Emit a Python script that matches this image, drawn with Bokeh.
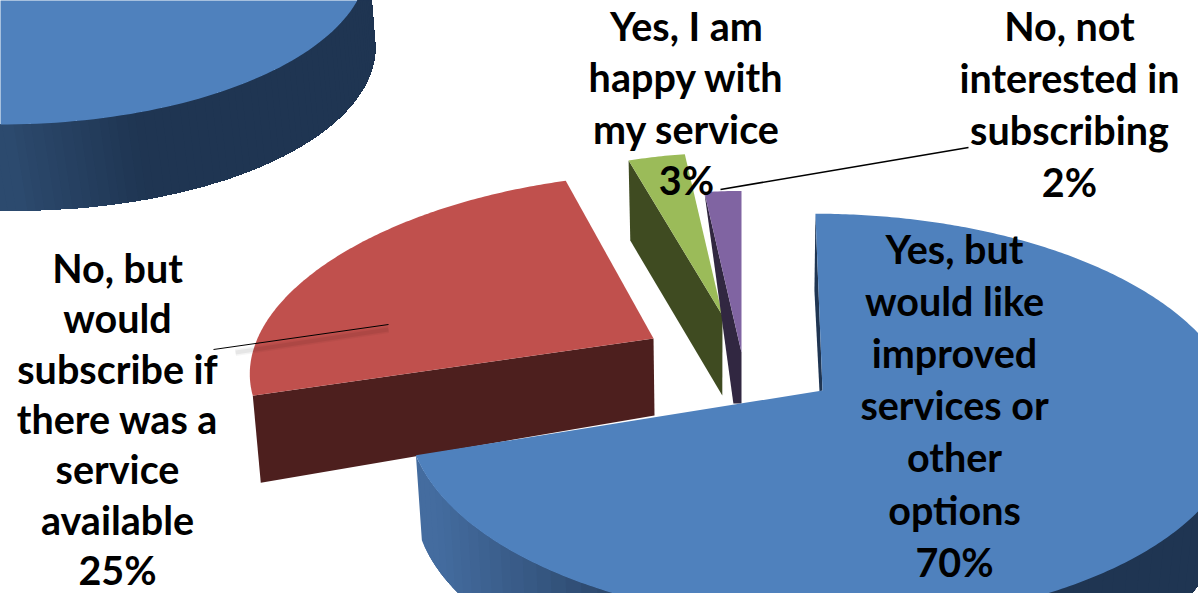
import numpy as np
from bokeh.plotting import figure
from bokeh.models import Range1d
from bokeh.core.properties import value
from bokeh.embed import file_html
from bokeh.resources import INLINE

# ---- data ----
categories = ["Yes, but would like improved services or other options",
              "No, but would subscribe if there was a service available",
              "Yes, I am happy with my service",
              "No, not interested in subscribing"]
percent = [70, 25, 3, 2]
label_lines = [["Yes, but", "would like", "improved", "services or", "other", "options"],
               ["No, but", "would", "subscribe if", "there was a", "service", "available"],
               ["Yes, I am", "happy with", "my service"],
               ["No, not", "interested in", "subscribing"]]

# ---- styling / layout ----
top_col = ["#4f81bd", "#c0504d", "#9bbb59", "#8064a2"]
side_col = ["#1f3552", "#4d1f1e", "#3f4b21", "#312741"]
# apex x, apex y, A, B, kx, ky, skew, depth
geom = [(822, 390, 412, 201, .137, .137, .04, 85),
        (653, 338, 396, 180, .137, .09, -.13, 82),
        (722, 315, 405, 170, .35, .046, 0, 80),
        (741, 352, 399, 169, .35, .046, 0, 51)]
label_pos = [(954, 247.5, 52.2), (117, 267, 50.3), (686, 24.5, 51.5), (1069, 24.5, 52)]
FONT = "Lato"
FS = "39.5px"

p = figure(width=1198, height=593, output_backend="svg", toolbar_location=None,
           x_range=Range1d(0, 1198), y_range=Range1d(593, 0), min_border=0)
p.axis.visible = False
p.grid.visible = False
p.outline_line_color = None


def project(g, th):
    ax, ay, A, B, kx, ky, sk, _ = g
    x, y = np.cos(th), np.sin(th)
    Y = ay - B * y / (1 + ky * y)
    return ax + A * x / (1 + kx * y) + sk * (Y - ay), Y


def extrude(X, Y, d):
    return X + (712 - X) * 0.02, Y + d


def mix(c1, c2, t):
    a = [int(c1[i:i + 2], 16) for i in (1, 3, 5)]
    b = [int(c2[i:i + 2], 16) for i in (1, 3, 5)]
    return "#%02x%02x%02x" % tuple(int(round(u + (v - u) * t)) for u, v in zip(a, b))


def wall(xs, ys, d, colfn, nbands=36):
    """outer wall, points running left to right, painted in overlapping bands"""
    xb, yb = extrude(xs, ys, d)
    px, py, cs = [], [], []
    for i in np.linspace(0, len(xs) - 2, nbands).astype(int):
        px.append(np.r_[xs[i:], xb[i:][::-1]])
        py.append(np.r_[ys[i:], yb[i:][::-1]])
        cs.append(colfn(xs[i]))
    p.patches(px, py, fill_color=cs, line_color=None)


# second, cropped pie in the top-left corner
ghost = (0, -40, 368, 164, 0, 0, 0, 86)
t = np.linspace(-np.pi, 0, 400)
gx, gy = project(ghost, t)
wall(gx, gy, 86, lambda X: mix("#2c4a6e", "#1f3552", float(np.clip(X / 130, 0, 1))), 120)
t = np.linspace(0, 2 * np.pi, 240)
gx, gy = project(ghost, t)
p.patch(gx, gy, fill_color=top_col[0], line_color=None)

# angles from the values, clockwise from 12 o'clock
bounds = np.pi / 2 - np.cumsum([0] + percent) / 100 * 2 * np.pi
order = [1, 2, 3, 0]
for i in order:
    g = geom[i]
    ax, ay, d = g[0], g[1], g[7]
    th = np.linspace(bounds[i], bounds[i + 1], max(4, percent[i] * 6))
    X, Y = project(g, th)
    if i == 0:
        front = np.sin(th) < 0.02
        wall(X[front][::-1], Y[front][::-1], d,
             lambda v: mix("#446c9f", side_col[0], float(np.clip((v - 430) / 260, 0, 1))), 70)
        p.patch([X[0], X[0] - 1, ax - 3, ax], [Y[0], Y[0] + 77, ay + 1, ay],
                fill_color=side_col[0], line_color=None)
    elif i == 1:
        p.patch([X[0], ax, ax + 1, X[0] + 8], [Y[0], ay, ay + 77, Y[0] + 87],
                fill_color=side_col[i], line_color=None)
    elif i == 3:
        p.patch([X[0], ax, ax, X[0] + 29], [Y[0], ay, ay + d, ay + d],
                fill_color=side_col[i], line_color=None)
    else:
        x0, y0 = X[0], Y[0]
        xa, ya = extrude(np.array([x0, ax]), np.array([y0, ay]), d)
        p.patch([x0, ax, xa[1], xa[0]], [y0, ay, ya[1], ya[0]],
                fill_color=side_col[i], line_color=None)
    p.patch(np.r_[ax, X], np.r_[ay, Y], fill_color=top_col[i], line_color=None)

# leader lines
source_seg = [([213, 388], [349, 324]), ([720, 968], [189, 147])]
for w, a in [(7, .04), (4, .06)]:
    p.line([235, 388], [352, 329], line_color="#000000", line_alpha=a, line_width=w)
p.line(*source_seg[0], line_color="#000000", line_width=1)
p.line(*source_seg[1], line_color="#000000", line_width=1.6)

# labels
tx, ty, tt = [], [], []
for lines, pct, (cx, y0, lh) in zip(label_lines, percent, label_pos):
    for n, s in enumerate(lines + [f"{pct}%"]):
        tx.append(cx)
        ty.append(y0 + n * lh)
        tt.append(s)
p.text(tx, ty, text=tt, text_font=value(FONT), text_font_style="bold", text_font_size=FS,
       text_color="#000000", text_align="center", text_baseline="middle")

open("out.html", "w").write(file_html(p, INLINE))
